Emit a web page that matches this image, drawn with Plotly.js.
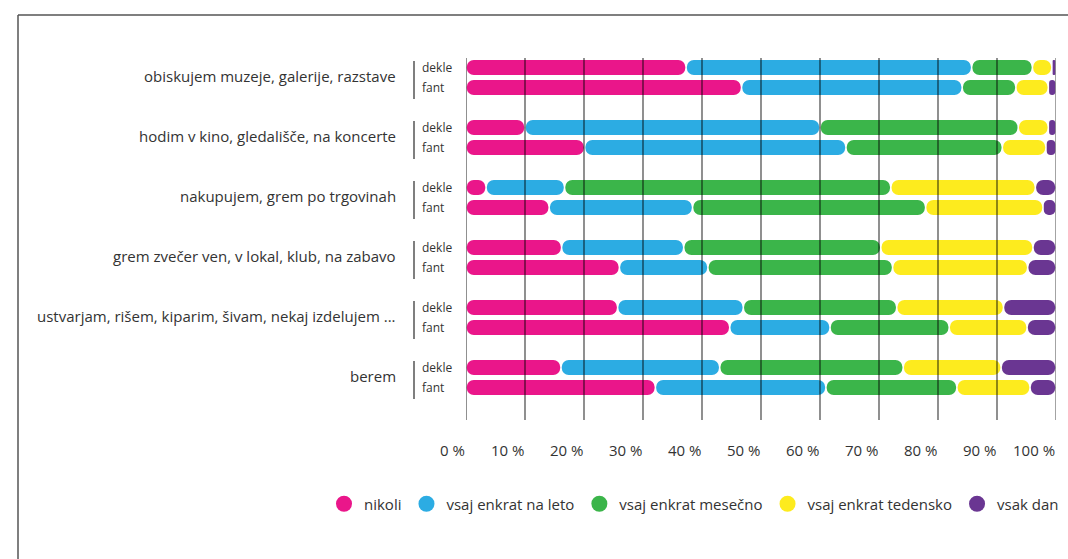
<!DOCTYPE html>
<html>
<head>
<meta charset="utf-8">
<script src="https://cdn.plot.ly/plotly-3.0.1.min.js"></script>
<style>html,body{margin:0;padding:0;background:#fff;}#chart{width:1068px;height:559px;}</style>
</head>
<body>
<div id="chart"></div>
<script>
// ---- data ----
const activities = [
  "obiskujem muzeje, galerije, razstave",
  "hodim v kino, gledališče, na koncerte",
  "nakupujem, grem po trgovinah",
  "grem zvečer ven, v lokal, klub, na zabavo",
  "ustvarjam, rišem, kiparim, šivam, nekaj izdelujem ...",
  "berem"
];
const groups = ["dekle", "fant"];
const responses = ["nikoli", "vsaj enkrat na leto", "vsaj enkrat mesečno", "vsaj enkrat tedensko", "vsak dan"];
// values in %, order per activity: dekle, fant
const nikoli   = [37.3, 46.7, 10.0, 20.1,  3.4, 14.1, 16.2, 26.0, 25.7, 44.7, 16.1, 32.1];
const naLeto   = [48.4, 37.4, 50.0, 44.3, 13.3, 24.3, 20.7, 15.0, 21.3, 17.0, 26.9, 28.9];
const mesecno  = [10.3,  9.1, 33.6, 26.5, 55.3, 39.5, 33.4, 31.3, 26.0, 20.2, 31.1, 22.2];
const tedensko = [ 3.3,  5.5,  5.1,  7.4, 24.5, 19.9, 25.8, 22.9, 18.1, 13.2, 16.6, 12.4];
const vsakDan  = [ 0.7,  1.3,  1.3,  1.7,  3.5,  2.2,  3.9,  4.8,  8.9,  4.9,  9.3,  4.4];
const tickValues = [0, 10, 20, 30, 40, 50, 60, 70, 80, 90, 100];
const tickLabels = ["0 %", "10 %", "20 %", "30 %", "40 %", "50 %", "60 %", "70 %", "80 %", "90 %", "100 %"];
const colors = ["#EA168A", "#2CACE3", "#3BB54A", "#FDEB1E", "#6A3692"];

// ---- layout helpers ----
const FW = 1068, FH = 559;
const L = 30, R = 12, T = 57, B = 139;          // margins
const PLOT_X0 = 466;                              // left edge of the bar area (px)
const PW = FW - L - R, PH = FH - T - B;
const px = v => (v - L) / PW;                     // pixel x -> paper
const py = v => (FH - B - v) / PH;                // pixel y -> paper
const FONT = "Open Sans, Noto Sans, sans-serif";
const TXT = "#333333";

const series = [nikoli, naLeto, mesecno, tedensko, vsakDan];
const nRows = nikoli.length;
const rowY = [];
for (let i = 0; i < nRows; i++) rowY.push(Math.floor(i / 2) * 3 + (i % 2));

// cumulative starts
const starts = series.map(() => new Array(nRows).fill(0));
for (let r = 0; r < nRows; r++) {
  let acc = 0;
  for (let s = 0; s < series.length; s++) { starts[s][r] = acc; acc += series[s][r]; }
}

const GAP = 0.13, BARW = 0.75;
const traces = [];
series.forEach((vals, s) => {
  traces.push({
    type: "bar", orientation: "h", y: rowY, name: responses[s],
    base: starts[s].map(b => b + GAP), x: vals.map(v => Math.max(v - 2 * GAP, 0.1)),
    width: BARW, marker: {color: colors[s], cornerradius: "50%", line: {width: 0}},
    showlegend: false, hoverinfo: "skip", legendgroup: responses[s]
  });
});
// legend entries (circles)
responses.forEach((name, s) => {
  traces.push({
    type: "scatter", mode: "markers", x: [null], y: [null], name: name,
    marker: {color: colors[s], size: 20, symbol: "circle"}, legendgroup: name
  });
});

const shapes = [];
// gridlines above bars
tickValues.forEach(v => shapes.push({
  type: "line", xref: "x", yref: "paper", x0: v, x1: v, y0: 0, y1: 0.997,
  layer: "above", line: {color: v === 100 ? "rgba(0,0,0,0.45)" : "rgba(0,0,0,0.55)", width: 1.6}
}));
// group separators
activities.forEach((a, g) => shapes.push({
  type: "line", xref: "paper", yref: "y", x0: px(414), x1: px(414),
  y0: g * 3 - 0.33, y1: g * 3 + 1.58, line: {color: "#555", width: 1.5}
}));
// frame
shapes.push({type: "line", xref: "paper", yref: "paper", x0: px(18), x1: px(1068), y0: py(15), y1: py(15), line: {color: "#555", width: 1.5}});
shapes.push({type: "line", xref: "paper", yref: "paper", x0: px(18), x1: px(18), y0: py(15), y1: py(560), line: {color: "#555", width: 1.5}});

const annotations = [];
activities.forEach((a, g) => {
  annotations.push({
    xref: "paper", yref: "y", x: px(398), y: g * 3 + 0.4, text: a, showarrow: false,
    xanchor: "right", yanchor: "middle", font: {family: FONT, size: 15, color: TXT}
  });
  groups.forEach((gr, k) => annotations.push({
    xref: "paper", yref: "y", x: px(420), y: g * 3 + k, text: gr, showarrow: false,
    xanchor: "left", yanchor: "middle", font: {family: FONT, size: 12, color: TXT}
  }));
});
// x tick labels, right-aligned at the gridline
tickValues.forEach((v, i) => annotations.push({
  xref: "x", yref: "paper", x: v, y: py(450), text: tickLabels[i], showarrow: false,
  xanchor: "right", yanchor: "middle", xshift: 1, font: {family: FONT, size: 15, color: TXT}
}));

const layout = {
  width: FW, height: FH,
  margin: {l: L, r: R, t: T, b: B, pad: 0, autoexpand: false},
  paper_bgcolor: "#fff", plot_bgcolor: "rgba(0,0,0,0)",
  barmode: "overlay",
  xaxis: {domain: [px(PLOT_X0), 1], range: [0, 100], showgrid: false, zeroline: false, showticklabels: false, ticks: "", fixedrange: true},
  yaxis: {range: [17.625, -0.525], showgrid: false, zeroline: false, showticklabels: false, ticks: "", fixedrange: true},
  showlegend: true,
  legend: {
    orientation: "h", xref: "container", yref: "container",
    x: 1064 / FW, xanchor: "right", y: (FH - 504) / FH, yanchor: "middle",
    font: {family: FONT, size: 15, color: TXT}, itemsizing: "trace", tracegroupgap: 0
  },
  shapes: shapes,
  annotations: annotations,
  font: {family: FONT, color: TXT}
};

Plotly.newPlot("chart", traces, layout, {displayModeBar: false, staticPlot: true});
</script>
</body>
</html>
